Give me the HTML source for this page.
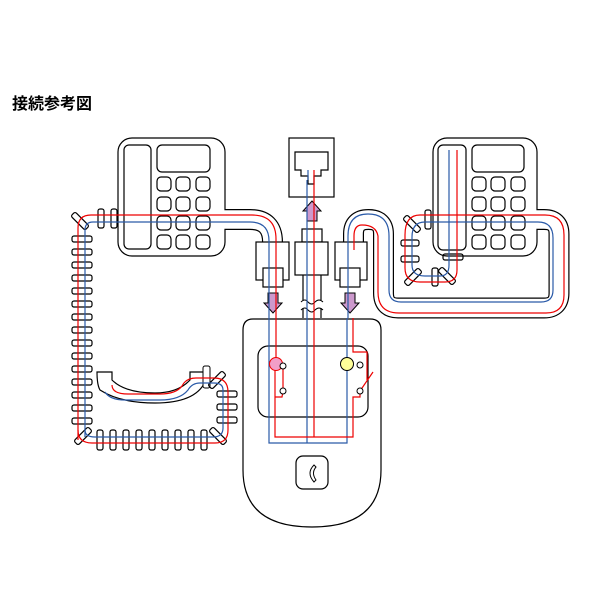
<!DOCTYPE html>
<html><head><meta charset="utf-8"><style>
html,body{margin:0;padding:0;background:#fff;width:600px;height:600px;overflow:hidden}
</style></head><body>
<svg width="600" height="600" viewBox="0 0 600 600" xmlns="http://www.w3.org/2000/svg" font-family="Liberation Sans, Noto Sans CJK JP, sans-serif">
<text x="12" y="109" font-size="16" font-weight="bold" fill="#000" font-family="Liberation Sans, Noto Sans CJK JP, sans-serif">接続参考図</text>
<g fill="none" stroke="#000" stroke-width="1.2">
<rect x="118" y="138" width="107" height="118" rx="14" fill="#fff"/>
<rect x="124" y="145" width="27" height="104" rx="5"/>
<rect x="157" y="145" width="53" height="27" rx="5"/>
<g id="keys">
<rect x="157" y="177" width="14" height="14" rx="4"/><rect x="176" y="177" width="14" height="14" rx="4"/><rect x="196" y="177" width="14" height="14" rx="4"/>
<rect x="157" y="197" width="14" height="14" rx="4"/><rect x="176" y="197" width="14" height="14" rx="4"/><rect x="196" y="197" width="14" height="14" rx="4"/>
<rect x="157" y="216" width="14" height="14" rx="4"/><rect x="176" y="216" width="14" height="14" rx="4"/><rect x="196" y="216" width="14" height="14" rx="4"/>
<rect x="157" y="235" width="14" height="14" rx="4"/><rect x="176" y="235" width="14" height="14" rx="4"/><rect x="196" y="235" width="14" height="14" rx="4"/>
</g>
<rect x="433" y="138" width="104" height="118" rx="14" fill="#fff"/>
<rect x="438" y="145" width="28" height="105" rx="5"/>
<rect x="472" y="145" width="52" height="27" rx="5"/>
<use href="#keys" transform="translate(315,0)"/>
<rect x="289" y="138" width="45" height="59" fill="#fff"/>
<path d="M295 152 H328 V170 H321 V176 H314 V184 H308 V176 H301 V170 H295 Z"/>
</g>
<path d="M225 219.5 H250 Q272.5 219.5 272.5 242 V250" fill="none" stroke="#000" stroke-width="21"/>
<path d="M224 219.5 H250 Q272.5 219.5 272.5 242 V250" fill="none" stroke="#fff" stroke-width="18.6"/>
<path d="M537 219.5 H544 Q559 219.5 559 234 V293 Q559 308 544 308 H398 Q383.5 308 383.5 293 V234 Q383.5 219.5 368.5 219.5 Q353.5 219.5 353.5 234 V250" fill="none" stroke="#000" stroke-width="21"/>
<path d="M536 219.5 H544 Q559 219.5 559 234 V293 Q559 308 544 308 H398 Q383.5 308 383.5 293 V234 Q383.5 219.5 368.5 219.5 Q353.5 219.5 353.5 234 V250" fill="none" stroke="#fff" stroke-width="18.6"/>
<path d="M253 319 H370 Q381 319 381 330 V470 Q381 527 312 527 Q243 527 243 470 V330 Q243 319 253 319 Z" fill="#fff" stroke="#000" stroke-width="1.2"/>
<rect x="258" y="346" width="110" height="71" rx="10" fill="none" stroke="#000" stroke-width="1.2"/>
<rect x="296" y="456" width="32" height="33" rx="7" fill="none" stroke="#000" stroke-width="1.2"/>
<path d="M314 465 Q306 473 314 482 L316 480 Q311 473 316 467 Z" fill="none" stroke="#000" stroke-width="1"/>
<g fill="#fff" stroke="#000" stroke-width="1.2">
<rect x="256" y="242" width="33" height="38"/><rect x="263" y="268" width="20" height="19"/>
<rect x="335" y="242" width="32" height="38"/><rect x="340" y="268" width="20" height="19"/>
<rect x="302" y="229" width="20" height="13"/><rect x="295" y="242" width="33" height="33"/>
<path d="M303 275 V300 M321 275 V300 M303 308 V318 M321 308 V318"/>
</g>
<path d="M301 302 q4 -4 7 0 q4 4 7 0 q4 -4 8 0 M301 310 q4 -4 7 0 q4 4 7 0 q4 -4 8 0" fill="none" stroke="#000" stroke-width="1"/>
<g fill="#cc99cc" stroke="#000" stroke-width="1">
<path d="M268 293 H278 V303 H282 L273 313 L264 303 H268 Z"/>
<path d="M345 293 H355 V303 H359 L350 313 L341 303 H345 Z"/>
<path d="M307 221 H317 V211 H321 L312 201 L303 211 H307 Z"/>
</g>
<path d="M97 372 H112 V380 Q125 393 155 393 Q178 393 190 380 V372 H205 V382 Q195 403 155 403 Q120 403 100 390 Q97 385 97 372 Z" fill="none" stroke="#000" stroke-width="1.2"/>
<rect x="203" y="366" width="7" height="22" rx="2" fill="#fff" stroke="#000"/>
<g fill="none" stroke="#000" stroke-width="1.2">
<rect x="72" y="236" width="20" height="6" rx="2"/><rect x="72" y="249" width="20" height="6" rx="2"/><rect x="72" y="262" width="20" height="6" rx="2"/><rect x="72" y="275" width="20" height="6" rx="2"/><rect x="72" y="288" width="20" height="6" rx="2"/><rect x="72" y="301" width="20" height="6" rx="2"/><rect x="72" y="314" width="20" height="6" rx="2"/><rect x="72" y="327" width="20" height="6" rx="2"/><rect x="72" y="340" width="20" height="6" rx="2"/><rect x="72" y="353" width="20" height="6" rx="2"/><rect x="72" y="366" width="20" height="6" rx="2"/><rect x="72" y="379" width="20" height="6" rx="2"/><rect x="72" y="392" width="20" height="6" rx="2"/><rect x="72" y="405" width="20" height="6" rx="2"/><rect x="72" y="418" width="20" height="6" rx="2"/>
<rect x="97" y="430" width="6" height="20" rx="2"/><rect x="110" y="430" width="6" height="20" rx="2"/><rect x="123" y="430" width="6" height="20" rx="2"/><rect x="136" y="430" width="6" height="20" rx="2"/><rect x="149" y="430" width="6" height="20" rx="2"/><rect x="162" y="430" width="6" height="20" rx="2"/><rect x="175" y="430" width="6" height="20" rx="2"/><rect x="188" y="430" width="6" height="20" rx="2"/><rect x="201" y="430" width="6" height="20" rx="2"/>
<rect x="217" y="391" width="20" height="6" rx="2"/><rect x="217" y="404" width="20" height="6" rx="2"/><rect x="217" y="417" width="20" height="6" rx="2"/>
<rect x="98" y="209" width="6" height="19" rx="2"/><rect x="111" y="209" width="6" height="19" rx="2"/>
<rect x="70" y="218" width="20" height="6" rx="2" transform="rotate(45 80 221)"/>
<rect x="73" y="433" width="20" height="6" rx="2" transform="rotate(-45 83 436)"/>
<rect x="208" y="433" width="20" height="6" rx="2" transform="rotate(45 218 436)"/>
<rect x="207" y="377" width="20" height="6" rx="2" transform="rotate(-45 217 380)"/>
<rect x="425" y="210" width="6" height="19" rx="2"/>
<rect x="401" y="240" width="18" height="6" rx="2"/><rect x="401" y="256" width="18" height="6" rx="2"/>
<rect x="443" y="254" width="20" height="6" rx="2"/>
<rect x="432" y="268" width="6" height="18" rx="2"/>
<rect x="402" y="221" width="20" height="6" rx="2" transform="rotate(45 412 224)"/>
<rect x="403" y="274" width="20" height="6" rx="2" transform="rotate(-45 413 277)"/>
<rect x="437" y="273" width="20" height="6" rx="2" transform="rotate(45 447 276)"/>
</g>
<g fill="none" stroke-width="1.2">
<path d="M78 440 V228 Q78 215 91 215 H252 Q276 215 276 239 V362" stroke="#e00"/>
<path d="M85 437 V230 Q85 222 93 222 H250 Q269 222 269 241 V443 H347 V318" stroke="#2a5aa8"/>
<path d="M307 443 V180 M308 170 V180" stroke="#2a5aa8"/>
<path d="M314 437 V170" stroke="#e00"/>
<path d="M275 370 V437 H353 V397 H360 V391 M283 366 V391 L282 397 H275" stroke="#e00"/>
<path d="M353 318 V352 H367 V380 M360 391 L373 372" stroke="#e00"/>
<path d="M348 318 V250 V236 Q348 214 368 214 Q389 214 389 236 V290 Q389 302 401 302 H541 Q553 302 553 290 V238 Q553 222 538 222 H425 Q412 222 412 237 V265 Q412 276 425 276 H440 Q449 276 449 265 V150" stroke="#2a5aa8"/>
<path d="M354 250 V236 Q354 225 362 225 Q376 225 378 236 V292 Q378 313 399 313 H546 Q564 313 564 295 V235 Q564 215 545 215 H420 Q405 215 405 235 V268 Q405 282 420 282 H445 Q457 282 457 270 V150" stroke="#e00"/>
<path d="M78 430 Q78 443 92 443 H215 Q228 443 228 430 V392 Q228 378 214 378 H196 Q186 378 182 386 Q176 394 160 394 H128 Q112 394 112 385" stroke="#e00"/>
<path d="M85 430 Q85 437 95 437 H213 Q223 437 223 428 V390 Q223 383 214 383 H200 Q192 383 188 390 Q180 400 160 400 H125 Q110 400 105 392" stroke="#2a5aa8"/>
</g>
<circle cx="276" cy="364" r="6.5" fill="#f29ec8" stroke="#e00"/>
<circle cx="347" cy="364" r="6.5" fill="#ffff99" stroke="#000"/>
<g fill="#fff" stroke="#000" stroke-width="1"><circle cx="283" cy="366" r="3"/><circle cx="283" cy="391" r="3"/><circle cx="360" cy="365" r="3"/><circle cx="360" cy="391" r="3"/></g>
</svg>
</body></html>
